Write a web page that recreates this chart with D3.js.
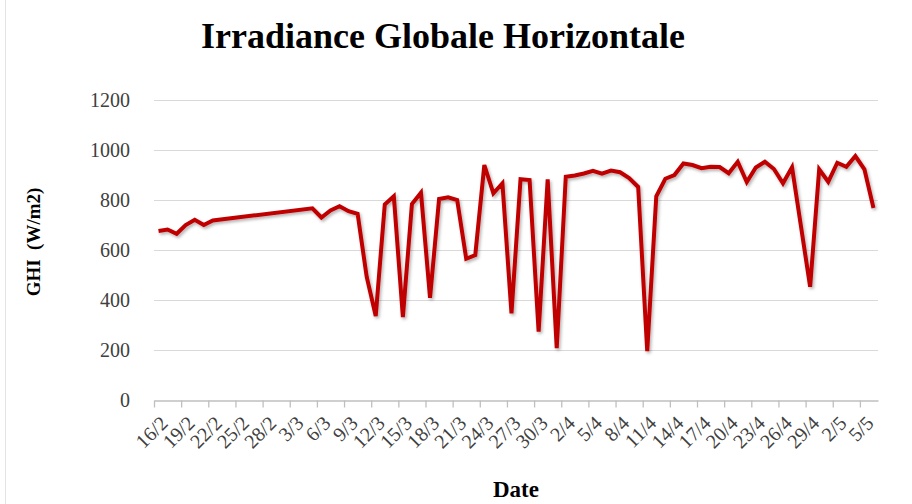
<!DOCTYPE html>
<html>
<head>
<meta charset="utf-8">
<script src="https://cdn.jsdelivr.net/npm/d3@7"></script>
<style>
  body { margin: 0; background: #fff; }
  text { font-family: 'Liberation Serif', 'DejaVu Serif', serif; }
  .grid line { stroke: #d9d9d9; stroke-width: 1; }
  .axis path, .axis line { stroke: #bfbfbf; stroke-width: 1.3; }
  .axis text { fill: #404040; font-size: 20px; }
</style>
</head>
<body>
<svg width="912" height="504"></svg>
<script>
(function(d3) {
  'use strict';

  // Days with a measurement (day/month); 23/2 to 4/3 are missing.
  const dates = [
    '16/2', '17/2', '18/2', '19/2', '20/2', '21/2', '22/2',
    '5/3', '6/3', '7/3', '8/3', '9/3', '10/3', '11/3', '12/3', '13/3',
    '14/3', '15/3', '16/3', '17/3', '18/3', '19/3', '20/3', '21/3',
    '22/3', '23/3', '24/3', '25/3', '26/3', '27/3', '28/3', '29/3',
    '30/3', '31/3', '1/4', '2/4', '3/4', '4/4', '5/4', '6/4', '7/4',
    '8/4', '9/4', '10/4', '11/4', '12/4', '13/4', '14/4', '15/4',
    '16/4', '17/4', '18/4', '19/4', '20/4', '21/4', '22/4', '23/4',
    '24/4', '25/4', '26/4', '27/4', '28/4', '29/4', '30/4', '1/5',
    '2/5', '3/5', '4/5', '5/5', '6/5',
  ];
  const ghi = [
    676, 682, 665, 700, 721, 700, 718,
    767, 730, 758, 775, 755, 745, 493, 336, 782,
    815, 332, 784, 829, 409, 804, 811, 800,
    565, 580, 940, 827, 867, 347, 883, 880,
    273, 883, 207, 893, 898, 906, 917, 905, 918,
    911, 888, 852, 195, 815, 885, 900, 946,
    940, 927, 933, 932, 907, 953, 872, 930,
    953, 924, 867, 931, 692, 453, 923, 873,
    949, 933, 976, 923, 768,
  ];
  const tickLabels = [
    '16/2', '19/2', '22/2', '25/2', '28/2', '3/3', '6/3', '9/3', '12/3',
    '15/3', '18/3', '21/3', '24/3', '27/3', '30/3', '2/4', '5/4', '8/4',
    '11/4', '14/4', '17/4', '20/4', '23/4', '26/4', '29/4', '2/5', '5/5',
  ];
  const yTicks = [0, 200, 400, 600, 800, 1000, 1200];

  const year = 2018;
  const DAY = 24 * 3600 * 1000;
  function parseDay(s) {
    const p = s.split('/');
    return new Date(Date.UTC(year, +p[1] - 1, +p[0]));
  }

  const data = dates.map(function(d, i) {
    return {date: new Date(+parseDay(d) + DAY / 2), value: ghi[i]};
  });

  const margin = {
    top: 100, bottom: 104, left: 154, right: 34,
  };

  const svg = d3.select('svg');
  const width = +svg.attr('width');
  const height = +svg.attr('height');
  const innerWidth = width - margin.left - margin.right;
  const innerHeight = height - margin.top - margin.bottom;

  // chart frame edge
  svg.append('line')
      .attr('x1', 5.5).attr('x2', 5.5)
      .attr('y1', 0).attr('y2', height)
      .attr('stroke', '#e3e3e3');

  const defs = svg.append('defs');
  defs.append('filter')
      .attr('id', 'shadow')
      .attr('x', '-5%').attr('y', '-5%')
      .attr('width', '110%').attr('height', '115%')
      .append('feDropShadow')
      .attr('dx', 1.5).attr('dy', 2)
      .attr('stdDeviation', 1.4)
      .attr('flood-color', '#000')
      .attr('flood-opacity', 0.3);

  const g = svg.append('g')
      .attr('transform', `translate(${margin.left},${margin.top})`);

  const xScale = d3.scaleUtc()
      .domain([parseDay(dates[0]), new Date(+parseDay(dates[dates.length - 1]) + DAY)])
      .range([0, innerWidth]);
  const yScale = d3.scaleLinear()
      .domain([0, 1200])
      .range([innerHeight, 0]);
  const halfDay = xScale(new Date(DAY / 2)) - xScale(new Date(0));

  // horizontal gridlines
  g.append('g').attr('class', 'grid')
      .selectAll('line')
      .data(yTicks.slice(1))
      .join('line')
      .attr('x1', 0).attr('x2', innerWidth)
      .attr('y1', function(d) { return yScale(d) + 0.5; })
      .attr('y2', function(d) { return yScale(d) + 0.5; });

  // y axis labels (no axis line)
  const yAxisG = g.append('g').attr('class', 'axis')
      .attr('transform', 'translate(-21,0)')
      .call(d3.axisLeft(yScale).tickValues(yTicks).tickSize(0).tickPadding(3)
          .tickFormat(d3.format('d')));
  yAxisG.select('.domain').remove();

  // x axis
  const xAxis = d3.axisBottom(xScale)
      .tickValues(tickLabels.map(parseDay))
      .tickSize(7)
      .tickSizeOuter(0)
      .tickFormat(function(d, i) { return tickLabels[i]; });
  const xAxisG = g.append('g').attr('class', 'axis')
      .attr('transform', `translate(0,${innerHeight + 0.5})`)
      .call(xAxis);
  xAxisG.selectAll('text')
      .attr('text-anchor', 'end')
      .attr('dy', '0.35em')
      .attr('transform', `translate(${halfDay + 5},19) rotate(-45)`)
      .attr('x', 0).attr('y', 0);

  // line
  const line = d3.line()
      .x(function(d) { return xScale(d.date); })
      .y(function(d) { return yScale(d.value); });
  g.append('path')
      .datum(data)
      .attr('fill', 'none')
      .attr('stroke', '#c00000')
      .attr('stroke-width', 4)
      .attr('stroke-linejoin', 'miter')
      .attr('filter', 'url(#shadow)')
      .attr('d', line);

  // titles
  svg.append('text')
      .attr('x', 443).attr('y', 48)
      .attr('text-anchor', 'middle')
      .attr('font-size', 36)
      .attr('font-weight', 'bold')
      .attr('fill', '#000')
      .text('Irradiance Globale Horizontale');

  svg.append('text')
      .attr('transform', `translate(40,${margin.top + innerHeight / 2 - 8}) rotate(-90)`)
      .attr('text-anchor', 'middle')
      .attr('font-size', 19)
      .attr('font-weight', 'bold')
      .attr('fill', '#000')
      .attr('xml:space', 'preserve')
      .text('GHI  (W/m2)');

  svg.append('text')
      .attr('x', margin.left + innerWidth / 2)
      .attr('y', 497)
      .attr('text-anchor', 'middle')
      .attr('font-size', 23)
      .attr('font-weight', 'bold')
      .attr('fill', '#000')
      .text('Date');
}(d3));
</script>
</body>
</html>
